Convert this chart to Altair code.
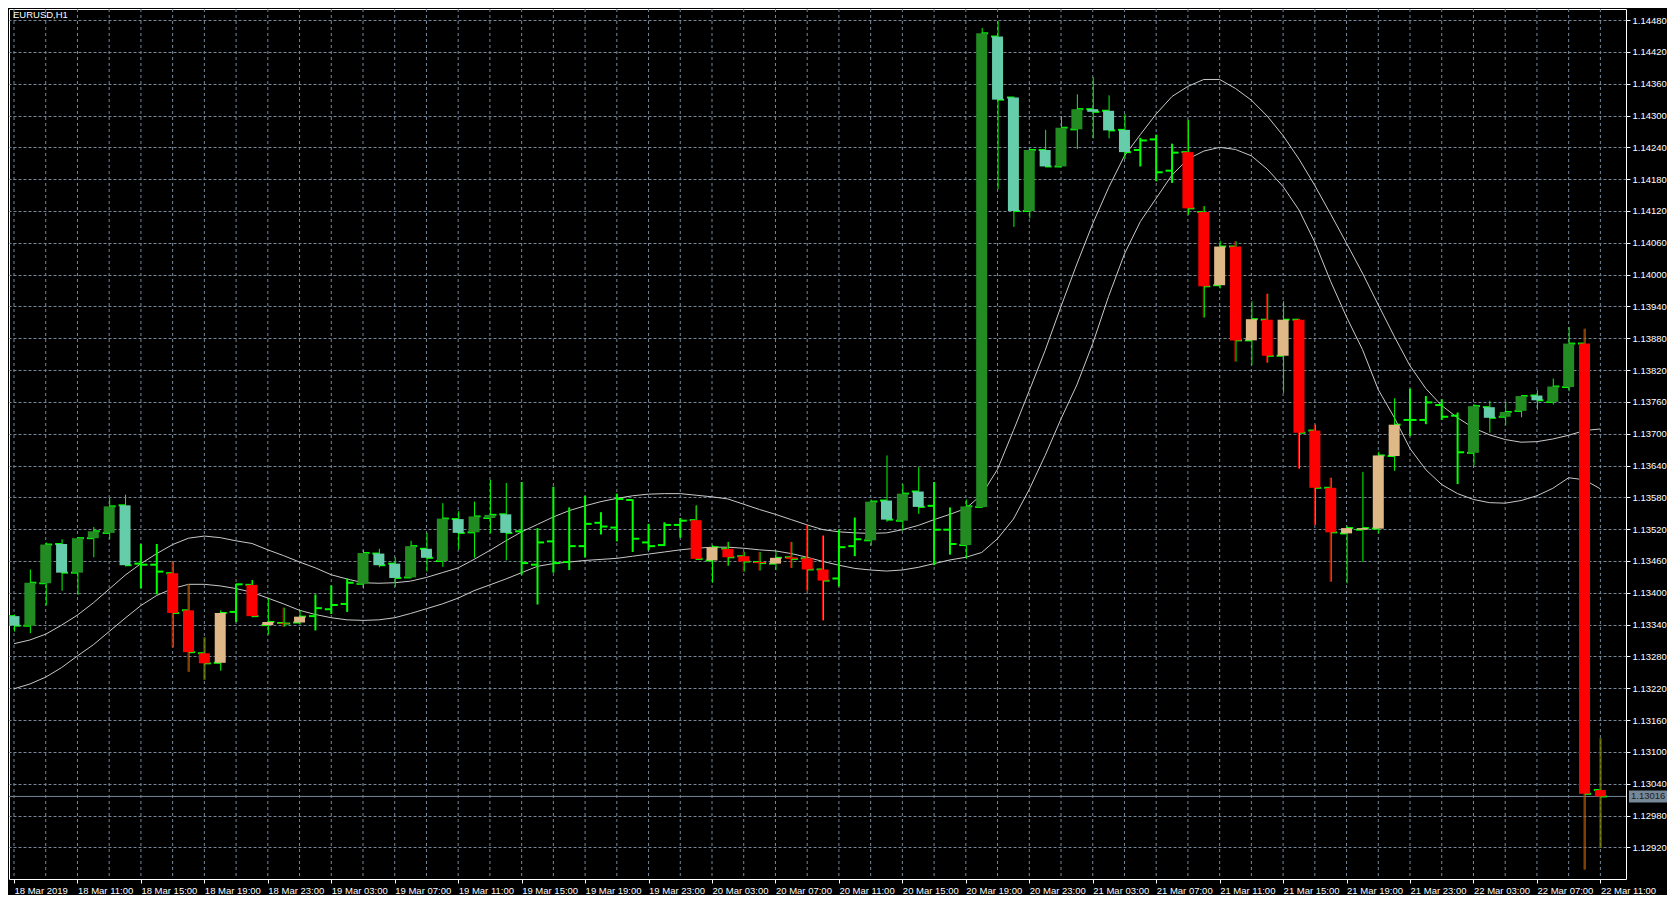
import altair as alt
import pandas as pd

# ---------------- data ----------------
symbol_label = "EURUSD,H1"
bid_price = 1.13016

bar_index = list(range(101))

# up = bull candle (dark green), dn = bear candle (aquamarine),
# rdn = bear candle in down move (red), rup = bull candle in down move (burlywood),
# bar = plain OHLC bar (lime)
styles = [
    "dn", "up", "up", "dn", "up", "up", "up", "dn", "bar", "bar",
    "rdn", "rdn", "rdn", "rup", "bar", "rdn", "rup", "rdn", "rup", "bar",
    "bar", "bar", "up", "dn", "dn", "up", "dn", "up", "dn", "up",
    "up", "dn", "bar", "bar", "bar", "bar", "bar", "bar", "bar", "bar",
    "bar", "bar", "bar", "rdn", "rup", "rdn", "rdn", "rdn", "rup", "rdn",
    "rdn", "rdn", "bar", "bar", "up", "dn", "up", "dn", "bar", "bar",
    "up", "up", "dn", "dn", "up", "dn", "up", "up", "dn", "dn",
    "dn", "bar", "bar", "bar", "rdn", "rdn", "rup", "rdn", "rup", "rdn",
    "rup", "rdn", "rdn", "rdn", "rup", "rup", "rup", "rup", "bar", "bar",
    "bar", "bar", "up", "dn", "up", "up", "dn", "up", "up", "rdn",
    "rdn",
]

opens = [
    1.13356, 1.13338, 1.13418, 1.13492, 1.13438, 1.13503, 1.13513, 1.13565, 1.13455, 1.13453,
    1.13437, 1.13367, 1.13286, 1.13268, 1.13364, 1.13415, 1.13339, 1.13343, 1.13344, 1.13356,
    1.13369, 1.13379, 1.13417, 1.13474, 1.13455, 1.13429, 1.13483, 1.13460, 1.13539, 1.13514,
    1.13541, 1.13548, 1.13516, 1.13453, 1.13497, 1.13458, 1.13488, 1.13532, 1.13523, 1.13575,
    1.13495, 1.13490, 1.13528, 1.13537, 1.13461, 1.13483, 1.13469, 1.13458, 1.13455, 1.13467,
    1.13465, 1.13444, 1.13427, 1.13488, 1.13499, 1.13574, 1.13536, 1.13591, 1.13564, 1.13519,
    1.13490, 1.13562, 1.14449, 1.14334, 1.14120, 1.14235, 1.14204, 1.14274, 1.14312, 1.14309,
    1.14273, 1.14235, 1.14255, 1.14196, 1.14231, 1.14118, 1.13980, 1.14053, 1.13876, 1.13915,
    1.13847, 1.13915, 1.13706, 1.13598, 1.13512, 1.13519, 1.13521, 1.13658, 1.13726, 1.13726,
    1.13754, 1.13734, 1.13664, 1.13750, 1.13732, 1.13743, 1.13772, 1.13760, 1.13788, 1.13870,
    1.13028,
]
highs = [
    1.13359, 1.13444, 1.13495, 1.13501, 1.13505, 1.13524, 1.13579, 1.13585, 1.13492, 1.13492,
    1.13459, 1.13416, 1.13316, 1.13367, 1.13417, 1.13424, 1.13389, 1.13372, 1.13367, 1.13397,
    1.13414, 1.13427, 1.13481, 1.13483, 1.13467, 1.13498, 1.13513, 1.13569, 1.13554, 1.13572,
    1.13613, 1.13607, 1.13609, 1.13522, 1.13600, 1.13561, 1.13583, 1.13552, 1.13587, 1.13576,
    1.13530, 1.13533, 1.13541, 1.13565, 1.13490, 1.13496, 1.13477, 1.13477, 1.13479, 1.13496,
    1.13528, 1.13508, 1.13519, 1.13542, 1.13576, 1.13659, 1.13605, 1.13637, 1.13609, 1.13561,
    1.13576, 1.14465, 1.14478, 1.14336, 1.14238, 1.14273, 1.14299, 1.14340, 1.14372, 1.14338,
    1.14303, 1.14258, 1.14264, 1.14247, 1.14292, 1.14129, 1.14064, 1.14063, 1.13950, 1.13964,
    1.13950, 1.13916, 1.13717, 1.13617, 1.13527, 1.13628, 1.13666, 1.13767, 1.13785, 1.13771,
    1.13765, 1.13740, 1.13756, 1.13762, 1.13759, 1.13772, 1.13782, 1.13804, 1.13901, 1.13898,
    1.13126,
]
lows = [
    1.13327, 1.13324, 1.13376, 1.13404, 1.13396, 1.13467, 1.13501, 1.13450, 1.13408, 1.13397,
    1.13297, 1.13251, 1.13236, 1.13253, 1.13345, 1.13354, 1.13321, 1.13336, 1.13340, 1.13329,
    1.13360, 1.13364, 1.13408, 1.13448, 1.13411, 1.13427, 1.13440, 1.13449, 1.13482, 1.13466,
    1.13512, 1.13461, 1.13434, 1.13378, 1.13438, 1.13443, 1.13467, 1.13510, 1.13497, 1.13477,
    1.13480, 1.13488, 1.13504, 1.13462, 1.13419, 1.13451, 1.13440, 1.13442, 1.13443, 1.13447,
    1.13404, 1.13348, 1.13412, 1.13469, 1.13489, 1.13534, 1.13517, 1.13549, 1.13452, 1.13472,
    1.13464, 1.13560, 1.14161, 1.14090, 1.14106, 1.14203, 1.14203, 1.14237, 1.14257, 1.14257,
    1.14218, 1.14204, 1.14176, 1.14173, 1.14113, 1.13919, 1.13974, 1.13836, 1.13829, 1.13834,
    1.13777, 1.13634, 1.13528, 1.13421, 1.13418, 1.13458, 1.13512, 1.13630, 1.13696, 1.13718,
    1.13726, 1.13605, 1.13640, 1.13702, 1.13716, 1.13731, 1.13745, 1.13755, 1.13780, 1.12878,
    1.12919,
]
closes = [
    1.13338, 1.13419, 1.13491, 1.13438, 1.13503, 1.13516, 1.13563, 1.13452, 1.13453, 1.13440,
    1.13362, 1.13288, 1.13267, 1.13362, 1.13416, 1.13356, 1.13345, 1.13342, 1.13355, 1.13371,
    1.13377, 1.13419, 1.13475, 1.13452, 1.13428, 1.13488, 1.13466, 1.13540, 1.13513, 1.13544,
    1.13547, 1.13513, 1.13456, 1.13495, 1.13456, 1.13488, 1.13530, 1.13525, 1.13577, 1.13502,
    1.13488, 1.13528, 1.13536, 1.13464, 1.13486, 1.13467, 1.13459, 1.13456, 1.13466, 1.13464,
    1.13444, 1.13423, 1.13486, 1.13501, 1.13572, 1.13538, 1.13587, 1.13562, 1.13519, 1.13492,
    1.13563, 1.14455, 1.14330, 1.14120, 1.14235, 1.14204, 1.14277, 1.14312, 1.14307, 1.14272,
    1.14231, 1.14253, 1.14193, 1.14230, 1.14125, 1.13978, 1.14053, 1.13876, 1.13916, 1.13847,
    1.13915, 1.13702, 1.13598, 1.13514, 1.13522, 1.13522, 1.13659, 1.13717, 1.13726, 1.13759,
    1.13732, 1.13665, 1.13752, 1.13730, 1.13741, 1.13771, 1.13763, 1.13789, 1.13870, 1.13021,
    1.13016,
]
upper_band = [
    1.13304, 1.13311, 1.13322, 1.13339, 1.13358, 1.13381, 1.13407, 1.13433, 1.13455, 1.13474,
    1.13491, 1.13503, 1.13507, 1.13504, 1.13498, 1.13493, 1.13481, 1.13470, 1.13458, 1.13447,
    1.13434, 1.13426, 1.13419, 1.13418, 1.13419, 1.13422, 1.13429, 1.13438, 1.13447, 1.13463,
    1.13480, 1.13498, 1.13515, 1.13529, 1.13543, 1.13555, 1.13564, 1.13572, 1.13578, 1.13583,
    1.13586, 1.13587, 1.13587, 1.13584, 1.13581, 1.13577, 1.13567, 1.13557, 1.13548, 1.13538,
    1.13528, 1.13519, 1.13515, 1.13513, 1.13512, 1.13513, 1.13519, 1.13527, 1.13538, 1.13548,
    1.13559, 1.13585, 1.13633, 1.13706, 1.13781, 1.13857, 1.13940, 1.14020, 1.14096, 1.14164,
    1.14224, 1.14264, 1.14303, 1.14336, 1.14355, 1.14368, 1.14368, 1.14351, 1.14329, 1.14299,
    1.14262, 1.14218, 1.14168, 1.14114, 1.14059, 1.14003, 1.13943, 1.13884, 1.13828, 1.13785,
    1.13753, 1.13730, 1.13711, 1.13698, 1.13689, 1.13684, 1.13685, 1.13690, 1.13697, 1.13706,
    1.13709,
]
lower_band = [
    1.13219, 1.13228, 1.13241, 1.13259, 1.13281, 1.13302, 1.13327, 1.13352, 1.13376, 1.13395,
    1.13408, 1.13416, 1.13416, 1.13413, 1.13408, 1.13401, 1.13390, 1.13379, 1.13367, 1.13359,
    1.13353, 1.13349, 1.13348, 1.13349, 1.13353, 1.13361, 1.13370, 1.13379, 1.13390, 1.13404,
    1.13415, 1.13426, 1.13438, 1.13450, 1.13455, 1.13458, 1.13461, 1.13463, 1.13465, 1.13469,
    1.13473, 1.13477, 1.13481, 1.13484, 1.13486, 1.13486, 1.13484, 1.13481, 1.13479, 1.13474,
    1.13467, 1.13459, 1.13452, 1.13446, 1.13443, 1.13441, 1.13443, 1.13448, 1.13455, 1.13462,
    1.13467, 1.13476, 1.13502, 1.13539, 1.13595, 1.13659, 1.13728, 1.13792, 1.13870, 1.13959,
    1.14039, 1.14100, 1.14144, 1.14188, 1.14218, 1.14233, 1.14240, 1.14236, 1.14224, 1.14199,
    1.14166, 1.14122, 1.14061, 1.13987, 1.13920, 1.13859, 1.13783, 1.13731, 1.13672, 1.13632,
    1.13604, 1.13587, 1.13576, 1.13570, 1.13569, 1.13574, 1.13583, 1.13597, 1.13617, 1.13613,
    1.13596,
]

x_tick_index = [0, 4, 8, 12, 16, 20, 24, 28, 32, 36, 40, 44, 48, 52, 56, 60, 64, 68, 72, 76,
                80, 84, 88, 92, 96, 100]
x_tick_labels = [
    "18 Mar 2019", "18 Mar 11:00", "18 Mar 15:00", "18 Mar 19:00", "18 Mar 23:00",
    "19 Mar 03:00", "19 Mar 07:00", "19 Mar 11:00", "19 Mar 15:00", "19 Mar 19:00",
    "19 Mar 23:00", "20 Mar 03:00", "20 Mar 07:00", "20 Mar 11:00", "20 Mar 15:00",
    "20 Mar 19:00", "20 Mar 23:00", "21 Mar 03:00", "21 Mar 07:00", "21 Mar 11:00",
    "21 Mar 15:00", "21 Mar 19:00", "21 Mar 23:00", "22 Mar 03:00", "22 Mar 07:00",
    "22 Mar 11:00",
]
x_grid_index = [0, 2, 4, 6, 8, 10, 12, 14, 16, 18, 20, 22, 24, 26, 28, 30, 32, 34, 36, 38,
                40, 42, 44, 46, 48, 50, 52, 54, 56, 58, 60, 62, 64, 66, 68, 70, 72, 74, 76,
                78, 80, 82, 84, 86, 88, 90, 92, 94, 96, 98, 100]
y_ticks = [1.12920, 1.12980, 1.13040, 1.13100, 1.13160, 1.13220, 1.13280, 1.13340, 1.13400,
           1.13460, 1.13520, 1.13580, 1.13640, 1.13700, 1.13760, 1.13820, 1.13880, 1.13940,
           1.14000, 1.14060, 1.14120, 1.14180, 1.14240, 1.14300, 1.14360, 1.14420, 1.14480]

# ---------------- chart ----------------
W, H = 1617, 870
FONT = "Liberation Sans"
FS = 9.5
GRID = "#778899"
LIME = "#00FF00"

df = pd.DataFrame({
    "i": bar_index, "style": styles, "open": opens, "high": highs,
    "low": lows, "close": closes, "upper": upper_band, "lower": lower_band,
})
grid_df = pd.DataFrame({"i": x_grid_index})
bid_df = pd.DataFrame({"p": [bid_price], "t": [f"{bid_price:.5f}"]})
title_df = pd.DataFrame({"t": [symbol_label]})

xscale = alt.Scale(domain=[0, 101.3], nice=False, zero=False)
yscale = alt.Scale(domain=[1.128603, 1.145009], nice=False, zero=False)

label_expr = "[" + ",".join(f"'{s}'" for s in x_tick_labels) + "][round(datum.value / 4)]"

xaxis = alt.Axis(values=x_tick_index, labelExpr=label_expr, grid=False, domain=False,
                 ticks=True, tickColor="white", tickSize=4, tickWidth=1,
                 labelColor="white", labelFont=FONT, labelFontSize=FS,
                 labelAlign="left", labelBaseline="top", labelPadding=2,
                 labelFlush=False, labelOverlap=False, title=None)
yaxis = alt.Axis(orient="right", values=y_ticks, format=".5f", grid=True,
                 gridColor=GRID, gridDash=[3, 2], gridWidth=1, gridOpacity=1,
                 domain=False, tickColor="white", tickSize=4, tickWidth=1,
                 labelColor="white", labelFont=FONT, labelFontSize=FS,
                 labelPadding=2, labelOverlap=False, labelFlush=False, title=None)


def X(field="i"):
    return alt.X(f"{field}:Q", scale=xscale, axis=xaxis, title=None)


def Y(field):
    return alt.Y(f"{field}:Q", scale=yscale, axis=yaxis, title=None)


base = alt.Chart(df)

vgrid = alt.Chart(grid_df).mark_rule(color=GRID, strokeDash=[3, 3], strokeWidth=1).encode(
    x=X("i"))

bid_line = alt.Chart(bid_df).mark_rule(color=GRID, strokeWidth=1).encode(y=Y("p"))

upper_line = base.mark_line(color="#C8C8C8", strokeWidth=1, clip=True).encode(
    x=X("i"), y=Y("upper"))
lower_line = base.mark_line(color="#C8C8C8", strokeWidth=1, clip=True).encode(
    x=X("i"), y=Y("lower"))

bars_only = base.transform_filter("datum.style == 'bar'")
candles = base.transform_filter("datum.style != 'bar'")

bar_stem = bars_only.mark_rule(color=LIME, strokeWidth=2, clip=True).encode(
    x=X("i"), y=Y("low"), y2=alt.Y2("high"))
candle_stem = candles.mark_rule(color=LIME, strokeWidth=1, xOffset=0.5, clip=True).encode(
    x=X("i"), y=Y("low"), y2=alt.Y2("high"))
open_tick = base.mark_rule(color=LIME, strokeWidth=2, xOffset=-6.5, x2Offset=0, clip=True).encode(
    x=X("i"), x2=alt.X2("i"), y=Y("open"))
close_tick = base.mark_rule(color=LIME, strokeWidth=2, xOffset=0, x2Offset=6.5, clip=True).encode(
    x=X("i"), x2=alt.X2("i"), y=Y("close"))

bodies = candles.mark_bar(size=11, clip=True).encode(
    x=X("i"), y=Y("open"), y2=alt.Y2("close"),
    color=alt.Color("style:N", legend=None,
                    scale=alt.Scale(domain=["up", "dn", "rdn", "rup"],
                                    range=["#228B22", "#66CDAA", "#FF0000", "#DEB887"])))

red_wick = base.transform_filter("datum.style == 'rdn'").mark_rule(
    color="#FF0000", strokeWidth=1, xOffset=-0.5, clip=True).encode(
    x=X("i"), y=Y("low"), y2=alt.Y2("high"))

title_text = alt.Chart(title_df).mark_text(
    align="left", baseline="middle", color="white", font=FONT, fontSize=FS).encode(
    x=alt.value(4), y=alt.value(6), text="t:N")

bid_box = alt.Chart(bid_df).mark_rect(color=GRID, yOffset=-6, y2Offset=6).encode(
    x=alt.value(W + 3), x2=alt.value(W + 41), y=Y("p"), y2=alt.Y2("p"))
bid_text = alt.Chart(bid_df).mark_text(
    align="left", baseline="middle", color="#202020", font=FONT, fontSize=FS).encode(
    x=alt.value(W + 5), y=Y("p"), text="t:N")

chart = alt.layer(
    vgrid, bid_line, upper_line, lower_line, bar_stem, candle_stem,
    open_tick, close_tick, bodies, red_wick, title_text, bid_box, bid_text,
).properties(
    width=W, height=H, background="black", padding=0,
).configure_view(
    stroke="white", strokeWidth=1, fill="black",
)

chart.save("out.html", embed_options={"renderer": "svg", "actions": False})
